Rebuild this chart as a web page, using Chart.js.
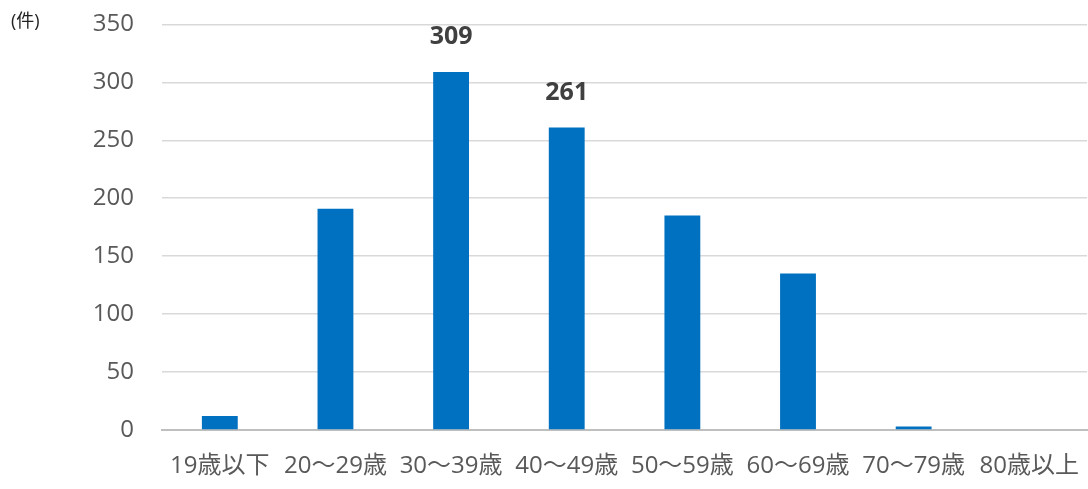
<!DOCTYPE html>
<html lang="ja">
<head>
<meta charset="utf-8">
<script src="https://cdn.jsdelivr.net/npm/chart.js@4"></script>
<style>
  html, body { margin: 0; padding: 0; background: #fff; }
  #wrap { position: relative; width: 1088px; height: 489px; overflow: hidden; }
  #ageChart { position: absolute; left: 0; top: -18px; }
  #unit { position: absolute; left: 11px; top: 6px; font: 18px "Open Sans", "Noto Sans CJK JP", sans-serif; color: #222; }
</style>
</head>
<body>
<div id="wrap">
  <canvas id="ageChart" width="1101" height="507"></canvas>
  <div id="unit">(件)</div>
</div>
<script>
// Age groups and counts
const ageGroups = ['19歳以下', '20～29歳', '30～39歳', '40～49歳', '50～59歳', '60～69歳', '70～79歳', '80歳以上'];
const counts = [12, 191, 309, 261, 185, 135, 3, 0];
const labeledIdx = [2, 3]; // only the two tallest bars carry a value label
const yTicks = [0, 50, 100, 150, 200, 250, 300, 350];

const FONT = '"Open Sans", "Noto Sans CJK JP", sans-serif';

// draw value labels above selected bars
const valueLabels = {
  id: 'valueLabels',
  afterDatasetsDraw(chart) {
    const { ctx } = chart;
    const meta = chart.getDatasetMeta(0);
    ctx.save();
    ctx.font = 'bold 25px ' + FONT;
    ctx.fillStyle = '#404040';
    ctx.textAlign = 'center';
    ctx.textBaseline = 'middle';
    labeledIdx.forEach(i => {
      const bar = meta.data[i];
      ctx.fillText(String(counts[i]), bar.x, bar.y - 35);
    });
    ctx.restore();
  }
};

const ctx = document.getElementById('ageChart').getContext('2d');
new Chart(ctx, {
  type: 'bar',
  data: {
    labels: ageGroups,
    datasets: [{
      data: counts,
      backgroundColor: '#0070C0',
      borderWidth: 0,
      barPercentage: 0.31,
      categoryPercentage: 1.0,
    }],
  },
  options: {
    responsive: false,
    animation: false,
    layout: { padding: 0 },
    plugins: {
      legend: { display: false },
      tooltip: { enabled: false },
    },
    scales: {
      x: {
        grid: { display: false, drawTicks: false },
        border: { color: '#bfbfbf', width: 2 },
        ticks: {
          color: '#595959',
          font: { family: FONT, size: 24 },
          padding: 22,
          maxRotation: 0,
          autoSkip: false,
        },
        afterFit(axis) { axis.height = 59; },
      },
      y: {
        min: 0,
        max: 350,
        afterBuildTicks(axis) { axis.ticks = yTicks.map(v => ({ value: v })); },
        grid: { color: '#d9d9d9', lineWidth: 1.5, drawTicks: false },
        border: { display: false },
        ticks: {
          color: '#595959',
          font: { family: FONT, size: 24 },
          padding: 28,
        },
        afterFit(axis) { axis.width = 162; },
      },
    },
  },
  plugins: [valueLabels],
});
</script>
</body>
</html>
